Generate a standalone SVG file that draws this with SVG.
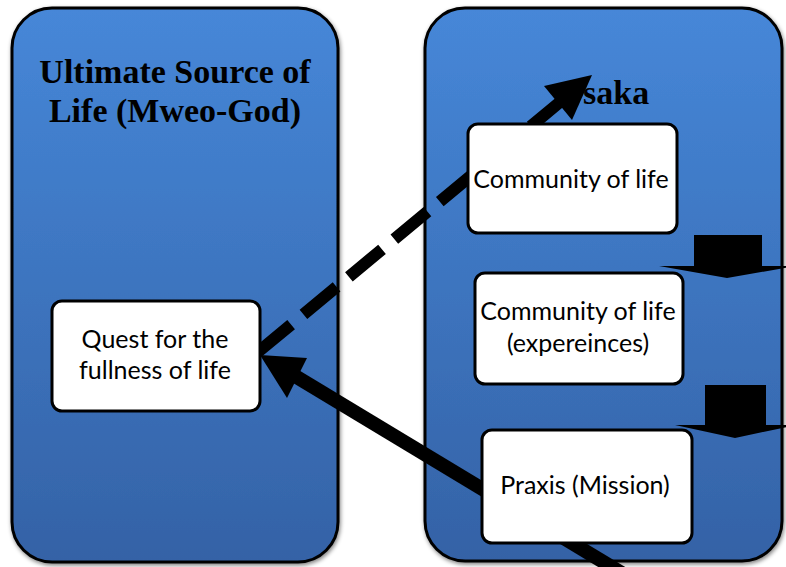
<svg xmlns="http://www.w3.org/2000/svg" width="786" height="567" viewBox="0 0 786 567">
<defs>
  <linearGradient id="panelGrad" x1="0" y1="0" x2="0" y2="1">
    <stop offset="0" stop-color="#4687d8"/>
    <stop offset="1" stop-color="#3462a6"/>
  </linearGradient>
  <filter id="shadow" x="-10%" y="-10%" width="120%" height="120%">
    <feGaussianBlur in="SourceAlpha" stdDeviation="2"/>
    <feOffset dx="1" dy="2" result="b"/>
    <feComponentTransfer><feFuncA type="linear" slope="0.5"/></feComponentTransfer>
    <feMerge><feMergeNode/><feMergeNode in="SourceGraphic"/></feMerge>
  </filter>
</defs>
<style>
  .panel { fill: url(#panelGrad); stroke: #000; stroke-width: 3; }
  .box { fill: #fff; stroke: #000; stroke-width: 3; }
  .title { font-family: "Liberation Serif", "Times New Roman", serif; font-weight: bold; font-size: 34px; fill: #000; }
  .label { font-family: Lato, "Open Sans", sans-serif; font-size: 25px; fill: #000; text-anchor: middle; }
  .conn { stroke: #000; fill: none; }
  .head { fill: #000; }
</style>

<g id="panel-source">
  <rect class="panel" x="12" y="8" width="326" height="554" rx="40" filter="url(#shadow)"/>
  <text class="title" x="175" y="83" text-anchor="middle">Ultimate Source of</text>
  <text class="title" x="175" y="122" text-anchor="middle">Life (Mweo-God)</text>
</g>

<g id="panel-saka">
  <rect class="panel" x="425" y="8" width="357" height="553" rx="40" filter="url(#shadow)"/>
  <text class="title" x="583" y="104">saka</text>
</g>

<g id="connectors">
  <line class="conn" x1="258" y1="352" x2="560" y2="102" stroke-width="12" stroke-dasharray="43 16"/>
  <polygon class="head" points="592,75 544,86 572,120"/>
  <line class="conn" x1="625" y1="575" x2="295" y2="376" stroke-width="14"/>
  <polygon class="head" points="260,355 307,358 287,398"/>
</g>

<g id="node-quest">
  <rect class="box" x="52" y="301" width="208" height="110" rx="10"/>
  <text class="label" x="155" y="348">Quest for the</text>
  <text class="label" x="155" y="379">fullness of life</text>
</g>

<g id="node-community">
  <rect class="box" x="468" y="124" width="209" height="109" rx="10"/>
  <text class="label" x="571" y="188">Community of life</text>
</g>

<g id="node-experiences">
  <rect class="box" x="475" y="273" width="208" height="111" rx="10"/>
  <text class="label" x="578" y="320">Community of life</text>
  <text class="label" x="578" y="352">(expereinces)</text>
</g>

<g id="node-praxis">
  <rect class="box" x="482" y="430" width="210" height="113" rx="10"/>
  <text class="label" x="585" y="494">Praxis (Mission)</text>
</g>

<g id="block-arrow-1">
  <polygon class="head" points="694,235 762,235 762,266 796,266 727,278 659,266 694,266"/>
</g>
<g id="block-arrow-2">
  <polygon class="head" points="705,385 766,385 766,425 796,425 735,438 675,425 705,425"/>
</g>
</svg>
